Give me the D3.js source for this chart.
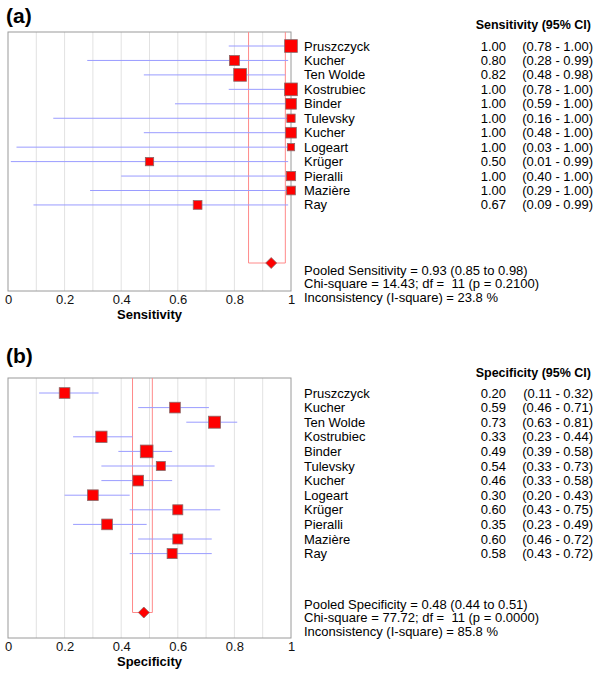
<!DOCTYPE html>
<html><head><meta charset="utf-8">
<script src="https://cdn.jsdelivr.net/npm/d3@7"></script>
<style>body{margin:0;background:#fff;} text{font-family:"Liberation Sans",Arial,Helvetica,sans-serif;white-space:pre;}</style>
</head><body><svg id="c" width="600" height="678"></svg>
<script>
const studies = ["Pruszczyck","Kucher","Ten Wolde","Kostrubiec","Binder","Tulevsky","Kucher","Logeart","Krüger","Pieralli","Mazière","Ray"];

const sensEst = [1.00,0.80,0.82,1.00,1.00,1.00,1.00,1.00,0.50,1.00,1.00,0.67];
const sensLo  = [0.78,0.28,0.48,0.78,0.59,0.16,0.48,0.03,0.01,0.40,0.29,0.09];
const sensHi  = [1.00,0.99,0.98,1.00,1.00,1.00,1.00,1.00,0.99,1.00,1.00,0.99];
const sensWeight = [161,100,161,161,114,69,114,53,69,86,76,76];
const sensPooled = {est:0.93, lo:0.85, hi:0.98};
const sensStats = ["Pooled Sensitivity = 0.93 (0.85 to 0.98)","Chi-square = 14.43; df =  11 (p = 0.2100)","Inconsistency (I-square) = 23.8 %"];

const specEst = [0.20,0.59,0.73,0.33,0.49,0.54,0.46,0.30,0.60,0.35,0.60,0.58];
const specLo  = [0.11,0.46,0.63,0.23,0.39,0.33,0.33,0.20,0.43,0.23,0.46,0.43];
const specHi  = [0.32,0.71,0.81,0.44,0.58,0.73,0.58,0.43,0.75,0.49,0.72,0.72];
const specWeight = [114,114,144,128,161,81,114,114,100,114,100,100];
const specPooled = {est:0.48, lo:0.44, hi:0.51};
const specStats = ["Pooled Specificity = 0.48 (0.44 to 0.51)","Chi-square = 77.72; df =  11 (p = 0.0000)","Inconsistency (I-square) = 85.8 %"];

const xTicks = [0,0.2,0.4,0.6,0.8,1];
const xTickLabels = ["0","0.2","0.4","0.6","0.8","1"];
const gridVals = [0.1,0.2,0.3,0.4,0.5,0.6,0.7,0.8,0.9];

const svg = d3.select("#c");
svg.append("rect").attr("width",600).attr("height",678).attr("fill","#fff");

const fmt = d3.format(".2f");
const x = d3.scaleLinear().domain([0,1]).range([8,291]);
const size = d3.scaleSqrt().domain([0,161]).range([0,12.7]);

function panel(cfg){
  const g = svg.append("g");
  const y = d3.scaleLinear().domain([0,11]).range([cfg.row0, cfg.row0 + 11*cfg.step]);
  g.append("text").attr("x",6).attr("y",cfg.labelY).attr("font-size",21).attr("font-weight","bold").attr("dominant-baseline","central").text(cfg.label);
  g.selectAll(".grid").data(gridVals).join("line")
    .attr("x1",d=>x(d)).attr("x2",d=>x(d)).attr("y1",cfg.top).attr("y2",cfg.bottom)
    .attr("stroke","#e2e2e2").attr("stroke-width",1);
  g.append("rect").attr("x",x(0)).attr("y",cfg.top).attr("width",x(1)-x(0)).attr("height",cfg.bottom-cfg.top)
    .attr("fill","none").attr("stroke","#9a9a9a").attr("stroke-width",1);
  const p = cfg.pooled;
  g.append("path").attr("d",`M${x(p.lo)},${cfg.top}V${cfg.diamondY}H${x(p.hi)}V${cfg.top}`)
    .attr("fill","none").attr("stroke","#ff8a8a").attr("stroke-width",1);
  g.selectAll(".ci").data(cfg.est).join("line")
    .attr("x1",(d,i)=>x(cfg.lo[i])).attr("x2",(d,i)=>x(cfg.hi[i]))
    .attr("y1",(d,i)=>y(i)).attr("y2",(d,i)=>y(i))
    .attr("stroke","#9a9cff").attr("stroke-width",1);
  g.selectAll(".box").data(cfg.est).join("rect")
    .attr("x",(d,i)=>x(d)-size(cfg.w[i])/2).attr("y",(d,i)=>y(i)-size(cfg.w[i])/2)
    .attr("width",(d,i)=>size(cfg.w[i])).attr("height",(d,i)=>size(cfg.w[i]))
    .attr("fill","#ff0000").attr("stroke","#8a6a6a").attr("stroke-width",0.8);
  const cx = x(p.est), cy = cfg.diamondY, r = 5.5;
  g.append("path").attr("d",`M${cx-r},${cy}L${cx},${cy-r}L${cx+r},${cy}L${cx},${cy+r}Z`)
    .attr("fill","#ff0000").attr("stroke","#8a6a6a").attr("stroke-width",0.8);
  const axis = d3.axisBottom(x).tickValues(xTicks).tickFormat((d,i)=>xTickLabels[i]).tickSize(0).tickPadding(0);
  const ax = g.append("g").attr("transform",`translate(0,${cfg.tickY})`).call(axis);
  ax.select(".domain").remove();
  ax.selectAll("text").attr("font-size",13).attr("fill","#111").attr("dy","0.35em").attr("y",0)
    .attr("font-family","'Liberation Sans',Arial,sans-serif");
  g.append("text").attr("x",x(0.5)).attr("y",cfg.titleY).attr("text-anchor","middle").attr("dominant-baseline","central")
    .attr("font-size",13).attr("font-weight","bold").text(cfg.axisTitle);
  g.append("text").attr("x",591).attr("y",cfg.headerY).attr("text-anchor","end").attr("dominant-baseline","central")
    .attr("font-size",12.5).attr("font-weight","bold").text(cfg.header);
  g.selectAll(".nm").data(studies).join("text").attr("x",304).attr("y",(d,i)=>y(i))
    .attr("dominant-baseline","central").attr("font-size",13).text(d=>d);
  g.selectAll(".val").data(cfg.est).join("text").attr("x",506).attr("y",(d,i)=>y(i))
    .attr("text-anchor","end").attr("dominant-baseline","central").attr("font-size",13).text(d=>fmt(d));
  g.selectAll(".civ").data(cfg.est).join("text").attr("x",593).attr("y",(d,i)=>y(i))
    .attr("text-anchor","end").attr("dominant-baseline","central").attr("font-size",13)
    .text((d,i)=>`(${fmt(cfg.lo[i])} - ${fmt(cfg.hi[i])})`);
  g.selectAll(".st").data(cfg.stats).join("text").attr("x",304).attr("y",(d,i)=>cfg.statsY + i*cfg.statsStep)
    .attr("dominant-baseline","central").attr("font-size",13).text(d=>d);
}

panel({label:"(a)", labelY:15, top:32, bottom:291, row0:46, step:14.45, diamondY:263,
  est:sensEst, lo:sensLo, hi:sensHi, w:sensWeight, pooled:sensPooled, stats:sensStats,
  statsY:270, statsStep:13.5, tickY:299, titleY:314, axisTitle:"Sensitivity",
  headerY:25, header:"Sensitivity (95% CI)"});

panel({label:"(b)", labelY:355, top:378, bottom:638, row0:393, step:14.6, diamondY:612.5,
  est:specEst, lo:specLo, hi:specHi, w:specWeight, pooled:specPooled, stats:specStats,
  statsY:604, statsStep:13.5, tickY:646, titleY:661, axisTitle:"Specificity",
  headerY:373, header:"Specificity (95% CI)"});
</script></body></html>
